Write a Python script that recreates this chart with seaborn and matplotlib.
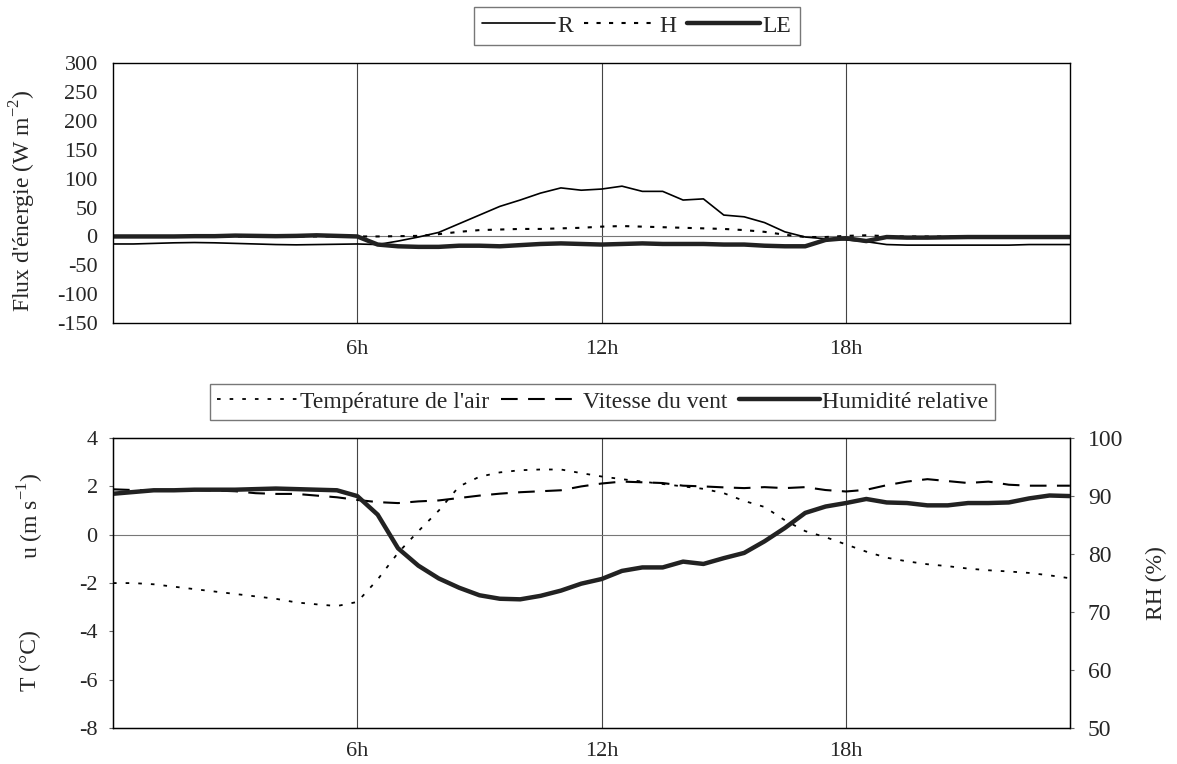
import numpy as np
import pandas as pd
import matplotlib
matplotlib.use("Agg")
import matplotlib.pyplot as plt
import seaborn as sns

# half-hourly values, 0h to 23h30
hours = np.arange(48) * 0.5

flux_R = [-13, -13, -12, -11, -10.5, -11, -12, -13, -14, -14.5, -14, -13.5,
          -13, -14, -8, -1, 7, 22, 37, 52, 63, 75, 84, 80,
          82, 87, 78, 78, 63, 65, 37, 34, 24, 8, -1, -4,
          -6, -9, -14, -15, -15, -15, -15, -15, -15, -14, -14, -14]
flux_H = [0, 0, 0, 0, 0, 0, 0, 0, 0, 0, 0, 0,
          0, 0, 0.5, 1, 4, 8, 11, 12, 13, 13, 14, 15,
          17, 18, 17, 16, 15, 14, 13, 11, 8, 3, -1, -1,
          1, 2, 0.5, 0, 0, 0, 0, 0, 0, 0, 0, 0]
flux_LE = [0, 0, 0, 0, 0.5, 0.5, 1.5, 1, 0.5, 1, 2, 1,
           0, -14, -17, -18, -18, -16, -16, -17, -15, -13, -12, -13,
           -14, -13, -12, -13, -13, -13, -14, -14, -16, -17, -17, -6,
           -3, -8, -1, -2, -2, -1.5, -1, -1, -1, -1, -1, -1]

air_temp = [-2.0, -2.0, -2.05, -2.15, -2.25, -2.35, -2.45, -2.55, -2.65, -2.8, -2.88, -2.95,
            -2.78, -1.85, -0.75, 0.15, 1.0, 2.0, 2.4, 2.58, 2.67, 2.7, 2.7, 2.55,
            2.41, 2.3, 2.2, 2.1, 2.0, 1.9, 1.72, 1.4, 1.15, 0.6, 0.15, -0.1,
            -0.4, -0.7, -0.95, -1.1, -1.22, -1.3, -1.4, -1.47, -1.52, -1.58, -1.68, -1.8]
wind_speed = [1.88, 1.85, 1.83, 1.85, 1.86, 1.83, 1.8, 1.72, 1.69, 1.69, 1.62, 1.55,
              1.44, 1.35, 1.31, 1.38, 1.42, 1.52, 1.62, 1.7, 1.76, 1.8, 1.84, 2.0,
              2.12, 2.2, 2.17, 2.14, 2.03, 2.0, 1.96, 1.93, 1.97, 1.93, 1.97, 1.85,
              1.79, 1.86, 2.05, 2.2, 2.3, 2.22, 2.14, 2.2, 2.07, 2.03, 2.03, 2.03]
rel_hum = [90.4, 90.7, 91.0, 91.0, 91.1, 91.1, 91.1, 91.2, 91.3, 91.2, 91.1, 91.0,
           90.0, 86.8, 81.0, 78.0, 75.8, 74.2, 72.9, 72.3, 72.2, 72.8, 73.7, 74.9,
           75.7, 77.1, 77.7, 77.7, 78.7, 78.3, 79.3, 80.2, 82.2, 84.5, 87.1, 88.2,
           88.8, 89.5, 88.9, 88.8, 88.4, 88.4, 88.8, 88.8, 88.9, 89.6, 90.1, 90.0]

hour_ticks = [6, 12, 18]
hour_labels = ["6h", "12h", "18h"]

df = pd.DataFrame({"t": hours, "R": flux_R, "H": flux_H, "LE": flux_LE,
                   "T": air_temp, "u": wind_speed, "RH": rel_hum})

sns.set_style("white")
plt.rcParams['font.family'] = ['Liberation Serif', 'DejaVu Serif']
plt.rcParams['mathtext.fontset'] = 'custom'
plt.rcParams['mathtext.rm'] = 'Liberation Serif'
plt.rcParams['axes.unicode_minus'] = False

FS = 16      # tick labels
LFS = 17     # axis labels / legends

fig = plt.figure(figsize=(11.77, 7.64), dpi=100)
ax1 = fig.add_axes([0.096, 0.577, 0.813, 0.3405])
ax2 = fig.add_axes([0.096, 0.047, 0.813, 0.3796])


def style_axes(ax):
    ax.set_xlim(0, 23.5)
    ax.set_xticks(hour_ticks)
    ax.set_xticklabels(hour_labels, fontsize=FS)
    for x in hour_ticks:
        ax.axvline(x, color="#444444", lw=0.8, zorder=0)
    ax.axhline(0, color="#777777", lw=0.8, zorder=0)
    for sp in ax.spines.values():
        sp.set_color("black")
        sp.set_linewidth(1.0)
    ax.tick_params(axis="x", length=0, pad=12)
    ax.tick_params(axis="y", length=3, width=0.8, color="#666666", labelsize=FS, pad=8)
    ax.set_xlabel("")


# top: energy fluxes
sns.lineplot(data=df, x="t", y="R", ax=ax1, color="black", linewidth=1.2,
             estimator=None, label="R")
sns.lineplot(data=df, x="t", y="H", ax=ax1, color="black", linewidth=1.5,
             linestyle=(0, (2, 4)), estimator=None, label="H")
sns.lineplot(data=df, x="t", y="LE", ax=ax1, color="#222222", linewidth=3.2,
             estimator=None, label="LE")
ax1.set_ylim(-150, 300)
ax1.set_yticks(np.arange(-150, 301, 50))
style_axes(ax1)
ax1.set_ylabel(r"Flux d'énergie (W m$^{\mathregular{-2}}$)", fontsize=LFS)
ax1.yaxis.set_label_coords(-0.078, 0.47)
h1, l1 = ax1.get_legend_handles_labels()
ax1.legend_.remove()
fig.legend(h1, l1, loc="center", bbox_to_anchor=(0.541, 0.966), ncol=3,
           fontsize=LFS, frameon=True, fancybox=False, edgecolor="#555555",
           handlelength=3.1, handletextpad=0.1, columnspacing=0.45,
           borderpad=0.35, borderaxespad=0)

# bottom: air temperature, wind speed, relative humidity
sns.lineplot(data=df, x="t", y="T", ax=ax2, color="black", linewidth=1.3,
             linestyle=(0, (2, 5)), estimator=None, label="Température de l'air")
sns.lineplot(data=df, x="t", y="u", ax=ax2, color="black", linewidth=1.5,
             linestyle=(0, (8, 5)), estimator=None, label="Vitesse du vent")
ax2.set_ylim(-8, 4)
ax2.set_yticks(np.arange(-8, 5, 2))
style_axes(ax2)
ax2.tick_params(axis="x", pad=10)
ax2.set_ylabel("")

ax3 = ax2.twinx()
sns.lineplot(data=df, x="t", y="RH", ax=ax3, color="#222222", linewidth=3.2,
             estimator=None, label="Humidité relative")
ax3.set_ylim(50, 100)
ax3.set_yticks(np.arange(50, 101, 10))
ax3.set_xlim(0, 23.5)
ax3.tick_params(axis="y", length=3, width=0.8, color="#666666", labelsize=FS + 1, pad=10)
ax3.set_ylabel("RH (%)", fontsize=LFS)
ax3.yaxis.set_label_coords(1.079, 0.5)
ax3.set_xlabel("")
for sp in ax3.spines.values():
    sp.set_color("black")

h2, l2 = ax2.get_legend_handles_labels()
h3, l3 = ax3.get_legend_handles_labels()
ax2.legend_.remove()
ax3.legend_.remove()
fig.legend(h2 + h3, l2 + l3, loc="center", bbox_to_anchor=(0.512, 0.474), ncol=3,
           fontsize=LFS, frameon=True, fancybox=False, edgecolor="#555555",
           handlelength=3.4, handletextpad=0.1, columnspacing=0.5,
           borderpad=0.3, borderaxespad=0)

fig.text(0.026, 0.325, "u (m s$^{\\mathregular{-1}}$)", rotation=90, fontsize=LFS,
         ha="center", va="center")
fig.text(0.026, 0.135, "T (°C)", rotation=90, fontsize=LFS,
         ha="center", va="center")

fig.savefig("out.png", dpi=100)
